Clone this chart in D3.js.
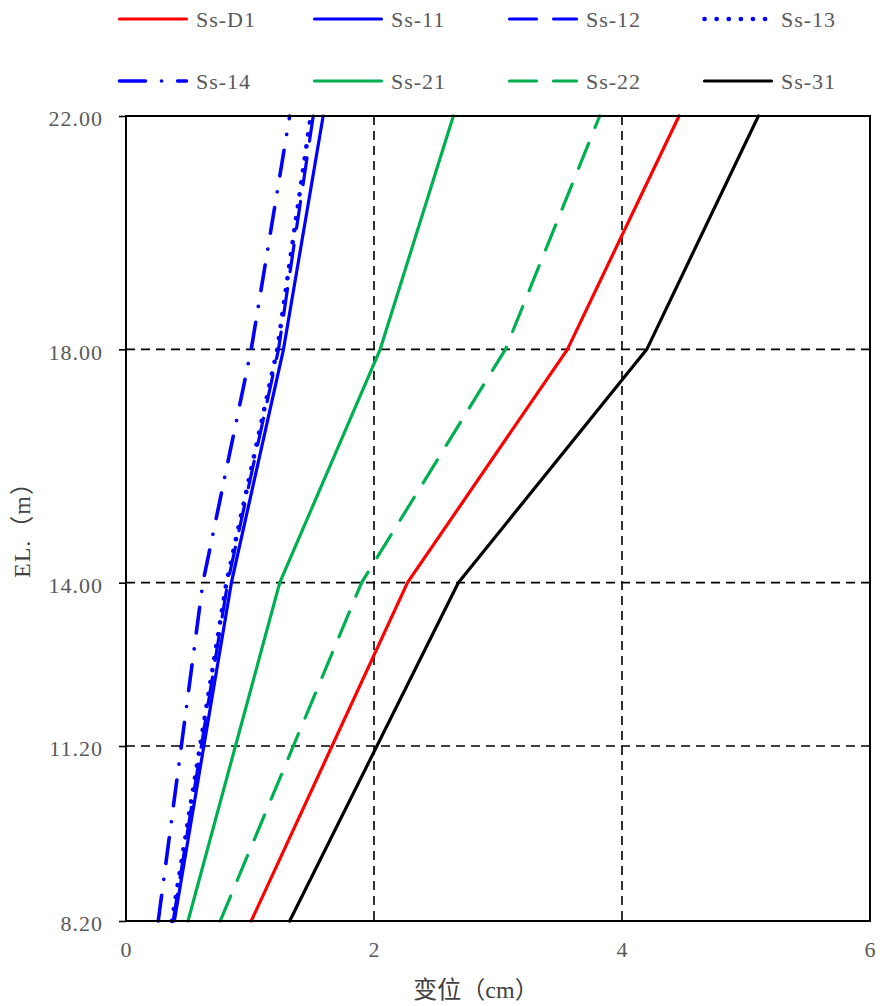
<!DOCTYPE html>
<html>
<head>
<meta charset="utf-8">
<script src="https://cdn.jsdelivr.net/npm/d3@7"></script>
<style>
  body { margin: 0; background: #fff; }
  text { font-family: "Liberation Serif", "Noto Sans CJK SC", serif; }
</style>
</head>
<body>
<svg width="880" height="1006"></svg>
<script>
// elevations (m) where displacement was read
const elevations = [8.2, 14, 18, 22];

// displacement (cm) for each case
const ssD1 = [1.01, 2.27, 3.56, 4.46];
const ss11 = [0.39, 0.85, 1.27, 1.59];
const ss12 = [0.38, 0.82, 1.23, 1.51];
const ss13 = [0.37, 0.81, 1.22, 1.49];
const ss14 = [0.26, 0.62, 1.01, 1.32];
const ss21 = [0.50, 1.24, 2.05, 2.64];
const ss22 = [0.76, 1.90, 3.06, 3.82];
const ss31 = [1.32, 2.68, 4.20, 5.10];

const yTicks = [8.2, 11.2, 14, 18, 22];
const xTicks = [0, 2, 4, 6];

let series = [
  { name: "Ss-D1", values: ssD1, color: "#ff0000", dash: null, w: 3.2 },
  { name: "Ss-11", values: ss11, color: "#0000ff", dash: null, w: 3.2 },
  { name: "Ss-12", values: ss12, color: "#0000ff", dash: "27,17", w: 3.2 },
  { name: "Ss-13", values: ss13, color: "#0000ff", dash: "0.1,12", w: 4.6 },
  { name: "Ss-14", values: ss14, color: "#0000ff", dash: "26,16,0.1,16", w: 3.6 },
  { name: "Ss-21", values: ss21, color: "#00b050", dash: null, w: 3.2 },
  { name: "Ss-22", values: ss22, color: "#00b050", dash: "27,17", w: 3.2 },
  { name: "Ss-31", values: ss31, color: "#000000", dash: null, w: 3.2 }
];

let svg = d3.select("svg"),
  margin = { top: 116, right: 10, bottom: 85, left: 126 },
  width = 880 - margin.left - margin.right,
  height = 1006 - margin.top - margin.bottom,
  g = svg.append("g").attr("transform", "translate(" + margin.left + "," + margin.top + ")");

let x = d3.scaleLinear().domain([0, 6]).range([0, width]);
let y = d3.scaleLinear().domain([8.2, 22]).range([height, 0]);

// dashed grid
g.selectAll(".vgrid")
  .data([2, 4])
  .enter().append("line")
  .attr("x1", (d) => x(d)).attr("x2", (d) => x(d))
  .attr("y1", 0).attr("y2", height)
  .attr("stroke", "#000").attr("stroke-width", 1.6)
  .attr("stroke-dasharray", "9,6");

g.selectAll(".hgrid")
  .data([11.2, 14, 18])
  .enter().append("line")
  .attr("x1", 0).attr("x2", width)
  .attr("y1", (d) => y(d)).attr("y2", (d) => y(d))
  .attr("stroke", "#000").attr("stroke-width", 1.6)
  .attr("stroke-dasharray", "9,6");

// axes
let yAxis = g.append("g")
  .call(d3.axisLeft(y).tickValues(yTicks).tickFormat(d3.format(".2f")).tickSize(7).tickPadding(16));
let xAxis = g.append("g")
  .attr("transform", "translate(0," + height + ")")
  .call(d3.axisBottom(x).tickValues(xTicks).tickFormat(d3.format("d")).tickSize(0).tickPadding(20));

[yAxis, xAxis].forEach((a) => {
  a.select(".domain").remove();
  a.selectAll(".tick line").attr("stroke", "#000").attr("stroke-width", 1.6);
  a.selectAll("text").attr("fill", "#595959").style("font-size", "22px").style("letter-spacing", "1px");
});
yAxis.selectAll("text").attr("dy", "0.45em");
xAxis.selectAll(".tick line").remove();

// lines
let line = d3.line()
  .x((d) => x(d[0]))
  .y((d) => y(d[1]));

g.selectAll(".series")
  .data(series)
  .enter().append("path")
  .attr("d", (s) => line(s.values.map((v, i) => [v, elevations[i]])))
  .attr("fill", "none")
  .attr("stroke", (s) => s.color)
  .attr("stroke-width", (s) => s.w)
  .attr("stroke-linecap", "round")
  .attr("stroke-linejoin", "round")
  .attr("stroke-dasharray", (s) => s.dash);

// plot frame
g.append("rect")
  .attr("width", width).attr("height", height)
  .attr("fill", "none").attr("stroke", "#000").attr("stroke-width", 2);

// axis titles
svg.append("text")
  .attr("x", 476).attr("y", 998)
  .attr("text-anchor", "middle")
  .attr("fill", "#404040")
  .style("font-size", "24px")
  .text("变位（cm）");

svg.append("text")
  .attr("transform", "translate(30,524) rotate(-90)")
  .attr("text-anchor", "middle")
  .attr("fill", "#404040")
  .style("font-size", "24px")
  .style("letter-spacing", "1px")
  .text("EL.（m）");

// legend
let legend = svg.append("g")
  .selectAll("g")
  .data(series)
  .enter().append("g")
  .attr("transform", (d, i) => "translate(" + (118 + (i % 4) * 195) + "," + (19 + Math.floor(i / 4) * 62) + ")");

legend.append("line")
  .attr("x1", 1.5).attr("x2", 68.5)
  .attr("stroke", (d) => d.color)
  .attr("stroke-width", (d) => d.w)
  .attr("stroke-linecap", "round")
  .attr("stroke-dasharray", (d) => d.dash);

legend.append("text")
  .attr("x", 78).attr("dy", "0.35em")
  .attr("fill", "#595959")
  .style("font-size", "22px")
  .style("letter-spacing", "1px")
  .text((d) => d.name);
</script>
</body>
</html>
